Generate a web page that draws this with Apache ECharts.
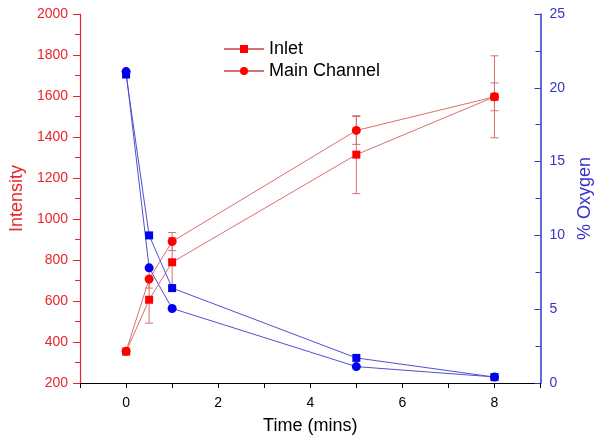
<!DOCTYPE html>
<html>
<head>
<meta charset="utf-8">
<script src="https://cdn.jsdelivr.net/npm/echarts@6/dist/echarts.min.js"></script>
<style>html,body{margin:0;padding:0;background:#fff}#c{width:602px;height:444px}</style>
</head>
<body>
<div id="c"></div>
<script>
var times = [0, 0.5, 1, 5, 8];
var inletIntensity = [353, 606, 789, 1314, 1596];
var inletErr = [0, 114, 120, 190, 200];
var mainIntensity = [355, 707, 890, 1432, 1596];
var mainErr = [0, 44, 44, 68, 68];
var inletOxygen = [20.9, 10.0, 6.43, 1.70, 0.40];
var mainOxygen = [21.1, 7.8, 5.05, 1.11, 0.41];

var RED_LINE = '#d9706f', RED = '#ff0000', BLUE_LINE = '#5050d0', BLUE = '#0000ee';
var FONT = 'Liberation Sans, Arial, sans-serif';

function pairs(xs, ys) { return xs.map(function (x, i) { return [x, ys[i]]; }); }
function errData(xs, ys, es) { return xs.map(function (x, i) { return [x, ys[i] - es[i], ys[i] + es[i]]; }).filter(function (d, i) { return es[i] > 0; }); }

function errRender(params, api) {
  var x = api.value(0), lo = api.value(1), hi = api.value(2);
  var pLo = api.coord([x, lo]), pHi = api.coord([x, hi]);
  var w = 4;
  var st = { stroke: RED_LINE, lineWidth: 1 };
  return { type: 'group', children: [
    { type: 'line', shape: { x1: pLo[0], y1: pLo[1], x2: pHi[0], y2: pHi[1] }, style: st },
    { type: 'line', shape: { x1: pLo[0] - w, y1: pLo[1], x2: pLo[0] + w, y2: pLo[1] }, style: st },
    { type: 'line', shape: { x1: pHi[0] - w, y1: pHi[1], x2: pHi[0] + w, y2: pHi[1] }, style: st }
  ]};
}

var chart = echarts.init(document.getElementById('c'), null, { renderer: 'canvas' });
chart.setOption({
  animation: false,
  backgroundColor: '#fff',
  textStyle: { fontFamily: FONT },
  grid: { left: 78, right: 58, top: 14, bottom: 61 },
  legend: {
    data: ['Inlet', 'Main Channel'],
    orient: 'vertical', left: 218, top: 35,
    itemWidth: 40, itemHeight: 10, itemGap: 4,
    textStyle: { fontSize: 18, color: '#000', fontFamily: FONT }
  },
  xAxis: {
    type: 'value', min: -1, max: 9, interval: 1,
    name: 'Time (mins)', nameLocation: 'middle', nameGap: 34,
    nameTextStyle: { fontSize: 18, color: '#000', fontFamily: FONT },
    axisLine: { onZero: false, lineStyle: { color: '#000', width: 1.2 } },
    axisTick: { inside: false, length: 5, lineStyle: { color: '#000' } },
    axisLabel: { fontSize: 14, color: '#000', margin: 13, fontFamily: FONT,
      formatter: function (v) { return (v % 2 === 0) ? String(v) : ''; } },
    splitLine: { show: false }
  },
  yAxis: [{
    type: 'value', min: 200, max: 2000, interval: 200, position: 'left',
    name: 'Intensity', nameLocation: 'middle', nameGap: 53,
    nameTextStyle: { fontSize: 18, color: '#e8262b', fontFamily: FONT },
    axisLine: { show: true, onZero: false, lineStyle: { color: '#e8262b', width: 1.2 } },
    axisTick: { show: true, inside: false, length: 7, lineStyle: { color: '#e8262b' } },
    minorTick: { show: true, splitNumber: 2, length: 5, lineStyle: { color: '#e8262b' } },
    axisLabel: { fontSize: 14, color: '#e8262b', margin: 12, fontFamily: FONT,
      formatter: function (v) { return String(v); } },
    splitLine: { show: false }
  }, {
    type: 'value', min: 0, max: 25, interval: 5, position: 'right',
    name: '% Oxygen', nameLocation: 'middle', nameGap: 33,
    nameTextStyle: { fontSize: 18, color: '#3535c8', fontFamily: FONT },
    axisLine: { show: true, onZero: false, lineStyle: { color: '#3535c8', width: 1.5 } },
    axisTick: { show: true, inside: true, length: 6, lineStyle: { color: '#3535c8' } },
    minorTick: { show: true, splitNumber: 2, length: 5, lineStyle: { color: '#3535c8' } },
    axisLabel: { fontSize: 14, color: '#3535c8', margin: 9, fontFamily: FONT,
      formatter: function (v) { return String(v); } },
    splitLine: { show: false }
  }],
  series: [
    { type: 'custom', name: 'inletErr', yAxisIndex: 0, renderItem: errRender, data: errData(times, inletIntensity, inletErr), z: 1, silent: true },
    { type: 'custom', name: 'mainErr', yAxisIndex: 0, renderItem: errRender, data: errData(times, mainIntensity, mainErr), z: 1, silent: true },
    { type: 'line', name: 'Inlet', yAxisIndex: 0, data: pairs(times, inletIntensity),
      symbol: 'rect', symbolSize: 8, lineStyle: { color: RED_LINE, width: 1 }, itemStyle: { color: RED }, z: 3 },
    { type: 'line', name: 'Main Channel', yAxisIndex: 0, data: pairs(times, mainIntensity),
      symbol: 'circle', symbolSize: 9, lineStyle: { color: RED_LINE, width: 1 }, itemStyle: { color: RED }, z: 3 },
    { type: 'line', name: 'Inlet O2', yAxisIndex: 1, data: pairs(times, inletOxygen),
      symbol: 'rect', symbolSize: 8, lineStyle: { color: BLUE_LINE, width: 1 }, itemStyle: { color: BLUE }, z: 4 },
    { type: 'line', name: 'Main O2', yAxisIndex: 1, data: pairs(times, mainOxygen),
      symbol: 'circle', symbolSize: 9, lineStyle: { color: BLUE_LINE, width: 1 }, itemStyle: { color: BLUE }, z: 4 }
  ]
});
</script>
</body>
</html>
